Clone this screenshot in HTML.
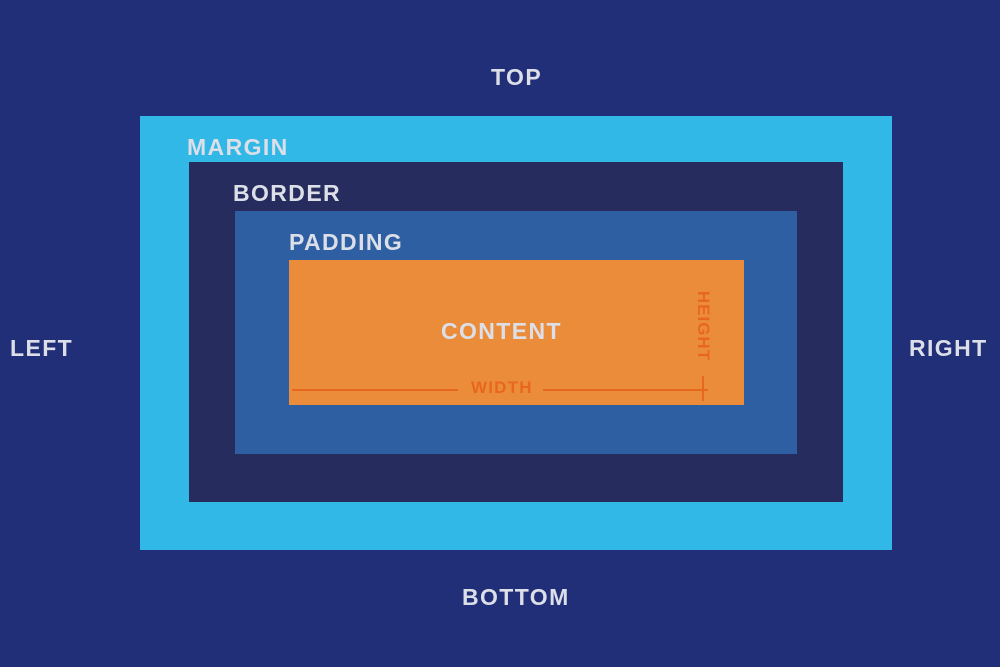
<!DOCTYPE html>
<html><head><style>
body{margin:0;width:1000px;height:667px;background:#212e78;position:relative;overflow:hidden;font-family:"Liberation Sans",sans-serif;font-weight:bold;color:#dcdfe8}
div{position:absolute}
.t{font-size:23px;white-space:nowrap;letter-spacing:1.4px}
</style></head><body>
<div style="left:140px;top:116px;width:752px;height:434px;background:#31b8e6"></div>
<div style="left:189px;top:162px;width:654px;height:340px;background:#262c5e"></div>
<div style="left:235px;top:211px;width:562px;height:243px;background:#2e5fa3"></div>
<div style="left:289px;top:260px;width:455px;height:145px;background:#eb8c3a"></div>
<div class="t" style="left:491px;top:64px">TOP</div>
<div class="t" style="left:462px;top:584px">BOTTOM</div>
<div class="t" style="left:10px;top:335px">LEFT</div>
<div class="t" style="left:909px;top:335px">RIGHT</div>
<div class="t" style="left:187px;top:134px">MARGIN</div>
<div class="t" style="left:233px;top:180px">BORDER</div>
<div class="t" style="left:289px;top:229px">PADDING</div>
<div class="t" style="left:441px;top:318px">CONTENT</div>
<div style="left:292px;top:389px;width:166px;height:2px;background:#e8671e"></div>
<div style="left:543px;top:389px;width:165px;height:2px;background:#e8671e"></div>
<div style="left:702px;top:376px;width:2px;height:25px;background:#e8671e"></div>
<div style="left:471px;top:378px;font-size:17px;letter-spacing:1.2px;color:#e8671e">WIDTH</div>
<div style="left:663px;top:316px;width:80px;text-align:center;font-size:17px;letter-spacing:1px;color:#e8671e;transform:rotate(90deg)">HEIGHT</div>
</body></html>
